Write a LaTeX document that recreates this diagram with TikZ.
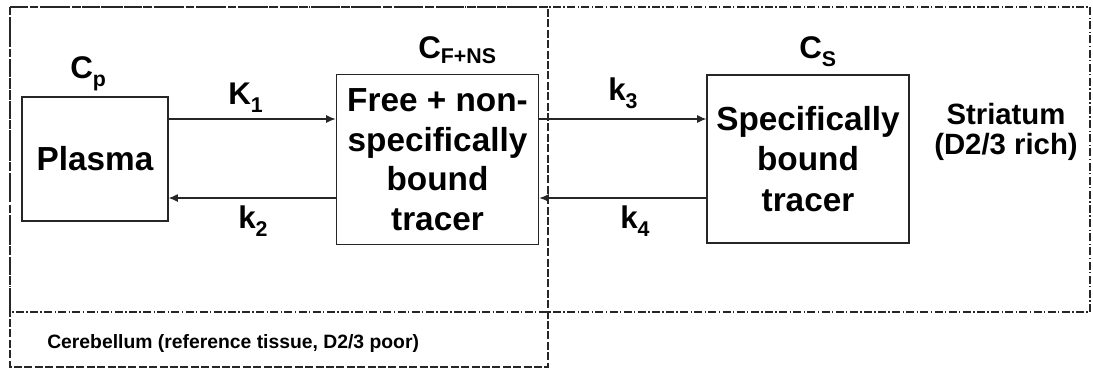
\documentclass[tikz,border=0pt]{standalone}
\usepackage{fontspec}
\setmainfont{Liberation Sans}
\usetikzlibrary{arrows.meta}
\newcommand{\lsub}[1]{\raisebox{-6.5pt}{\fontsize{16}{16}\selectfont #1}}
\begin{document}
\begin{tikzpicture}[x=0.75pt,y=-0.75pt,
  ink/.style={draw=black!85, line width=0.9pt},
  blk/.style={ink, rectangle, inner sep=0pt, align=center, font=\bfseries\fontsize{25}{29.6}\selectfont},
  arr/.style={ink, -{Latex[length=7pt,width=6pt]}},
  lbl/.style={anchor=base west, inner sep=0pt, font=\bfseries\fontsize{23.5}{24}\selectfont},
  cere/.style={draw=black!85, line width=0.9pt, dash pattern=on 6pt off 1.8pt},
  stri/.style={draw=black!85, line width=0.9pt, dash pattern=on 6pt off 1.8pt on 1pt off 1.8pt}]
\useasboundingbox (0,0) rectangle (1093,369);
% regions
\draw[stri] (10,7) rectangle (1090,312);
\draw[cere] (10,7) rectangle (548,367);
% compartments
\node[blk, minimum width=109.5pt, minimum height=93pt] (plasma) at (95,159) {Plasma};
\node[blk, minimum width=152pt, minimum height=127pt] (free) at (437.5,159.5) {Free + non-\\specifically\\bound\\tracer};
\node[blk, minimum width=151.5pt, minimum height=126pt, font=\bfseries\fontsize{25}{30.5}\selectfont] (spec) at (808,159) {Specifically\\bound\\tracer};
% connectors
\draw[arr] (plasma.east |- 0,119) -- (free.west |- 0,119);
\draw[arr] (free.west |- 0,198) -- (plasma.east |- 0,198);
\draw[arr] (free.east |- 0,119) -- (spec.west |- 0,119);
\draw[arr] (spec.west |- 0,198) -- (free.east |- 0,198);
% labels
\node[lbl] (cp) at (70,78) {C\lsub{p}};
\node[lbl] (cf) at (418,58) {C\raisebox{-4pt}{\fontsize{16}{16}\selectfont F+NS}};
\node[lbl] (cs) at (799,58) {C\lsub{S}};
\node[lbl] (k1) at (228,104) {K\lsub{1}};
\node[lbl] (k2) at (238,228) {k\lsub{2}};
\node[lbl] (k3) at (608,100) {k\lsub{3}};
\node[lbl] (k4) at (620,228) {k\lsub{4}};
\node[align=center, inner sep=0pt, anchor=base, font=\bfseries\fontsize{22}{22}\selectfont] (str) at (1006,154) {Striatum\\(D2/3 rich)};
\node[anchor=base west, inner sep=0pt, font=\bfseries\fontsize{14.5}{15}\selectfont] (cer) at (47,348) {Cerebellum (reference tissue, D2/3 poor)};
\end{tikzpicture}
\end{document}
